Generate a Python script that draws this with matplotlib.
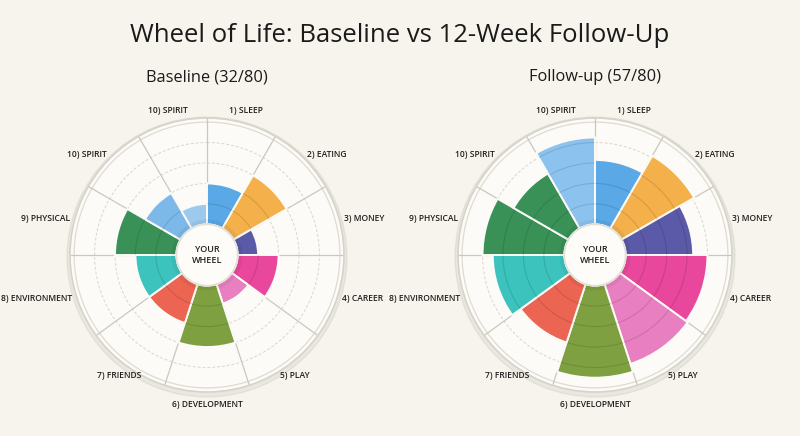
import numpy as np
import matplotlib
matplotlib.use('Agg')
import matplotlib.pyplot as plt
from matplotlib.patches import Ellipse

# ---- data ----
categories = ['1) SLEEP', '2) EATING', '3) MONEY', '4) CAREER', '5) PLAY',
              '6) DEVELOPMENT', '7) FRIENDS', '8) ENVIRONMENT', '9) PHYSICAL',
              '10) SPIRIT', '10) SPIRIT']
baseline = [4, 6, 2, 4, 2, 6, 4, 4, 6, 4, 2]
followup = [6.3, 8.2, 6.6, 8, 8.2, 9, 6, 7, 8, 6.2, 8.5]

colors_base = ['#5aa9e6', '#f4b04a', '#5a5aa8', '#e8479b', '#e87fc0', '#7fa040',
               '#ec6452', '#3cc3bd', '#3a9158', '#7db9e8', '#9ccaee']
colors_follow = ['#5aa9e6', '#f4b04a', '#5a5aa8', '#e8479b', '#e87fc0', '#7fa040',
                 '#ec6452', '#3cc3bd', '#3a9158', '#3a9158', '#8cc3ee']

title = 'Wheel of Life: Baseline vs 12-Week Follow-Up'
sub_base = 'Baseline (32/80)'
sub_follow = 'Follow-up (57/80)'

BG = '#f6f4ec'
DISC = '#fcfbf7'
HOLE = 3.0
R_OUT = 13.4
levels = [2, 4, 6, 8]

# sector layout: upper half in 30 deg slices, lower half in 36 deg slices
edges = np.deg2rad(np.r_[np.arange(0, 90, 30), np.arange(90, 270, 36), np.arange(270, 361, 30)])
centers = (edges[:-1] + edges[1:]) / 2
widths = np.diff(edges)

plt.rcParams['font.family'] = ['Open Sans', 'DejaVu Sans']


def draw_wheel(ax, values, colors):
    ax.set_theta_zero_location('N')
    ax.set_theta_direction(-1)
    ax.set_ylim(0, R_OUT)
    ax.set_facecolor(DISC)
    ax.set_xticks([])
    ax.set_yticks([])
    ax.grid(False)
    ax.spines['polar'].set_color('#d6d3c9')
    ax.spines['polar'].set_linewidth(1.2)
    ax.set_zorder(2)

    tt = np.linspace(0, 2 * np.pi, 400)
    for lv in levels:
        ax.plot(tt, np.full_like(tt, HOLE + lv), ls=(0, (3, 2)), color='#d9d6cd',
                lw=0.7, zorder=1)
    ax.plot(tt, np.full_like(tt, HOLE + 10), color='#dedbd2', lw=0.9, zorder=1)
    for e in edges[:-1]:
        ax.plot([e, e], [HOLE, R_OUT], color='#cac7be', lw=0.9, zorder=1)

    ax.bar(centers, values, width=widths, bottom=HOLE, color=colors,
           edgecolor=DISC, linewidth=1.4, zorder=2)
    for c, w, v in zip(centers, widths, values):
        for lv in levels:
            if lv < v - 0.3:
                t = np.linspace(c - w / 2 + 0.01, c + w / 2 - 0.01, 30)
                ax.plot(t, np.full_like(t, HOLE + lv), color='k', alpha=0.12,
                        lw=0.8, zorder=3)

    # centre hub
    ax.plot(tt, np.full_like(tt, HOLE + 0.2), color='k', alpha=0.05, lw=4, zorder=4)
    ax.fill(tt, np.full_like(tt, HOLE), color='#fdfcf9', zorder=5)
    ax.plot(tt, np.full_like(tt, HOLE), color='#e2dfd6', lw=1.2, zorder=5)
    ax.text(0, 0, 'YOUR\nWHEEL', ha='center', va='center', fontsize=6.5,
            fontweight='semibold', color='#222222', linespacing=1.4, zorder=6)

    for c, lab in zip(centers, categories):
        s = np.sin(c)
        if abs(s) > 0.65:
            ha = 'left' if s > 0 else 'right'
            r = 13.85
        else:
            ha = 'center'
            r = 14.6
        ax.text(c, r, lab, ha=ha, va='center', fontsize=6.1, fontweight='semibold',
                color='#1e1e1e')


fig = plt.figure(figsize=(8, 4.36), dpi=100, facecolor=BG)

# soft shadow under each wheel
for cx in (207, 595):
    fig.patches.append(Ellipse((cx / 800, 1 - 257 / 436), 2 * 140 / 800, 2 * 140 / 436,
                               transform=fig.transFigure, color='k', alpha=0.05, zorder=-1))

ax1 = fig.add_axes([(207 - 137) / 800, (436 - 255 - 137) / 436, 274 / 800, 274 / 436],
                   projection='polar')
ax2 = fig.add_axes([(595 - 137) / 800, (436 - 255 - 137) / 436, 274 / 800, 274 / 436],
                   projection='polar')
draw_wheel(ax1, baseline, colors_base)
draw_wheel(ax2, followup, colors_follow)

fig.text(0.5, 1 - 35 / 436, title, ha='center', va='center', fontsize=18.5, color='#1a1a1a')
fig.text(207 / 800, 1 - 77 / 436, sub_base, ha='center', va='center', fontsize=11.8,
         color='#1a1a1a')
fig.text(595 / 800, 1 - 77 / 436, sub_follow, ha='center', va='center', fontsize=11.8,
         color='#1a1a1a')

fig.savefig('out.png', dpi=100, facecolor=BG)
